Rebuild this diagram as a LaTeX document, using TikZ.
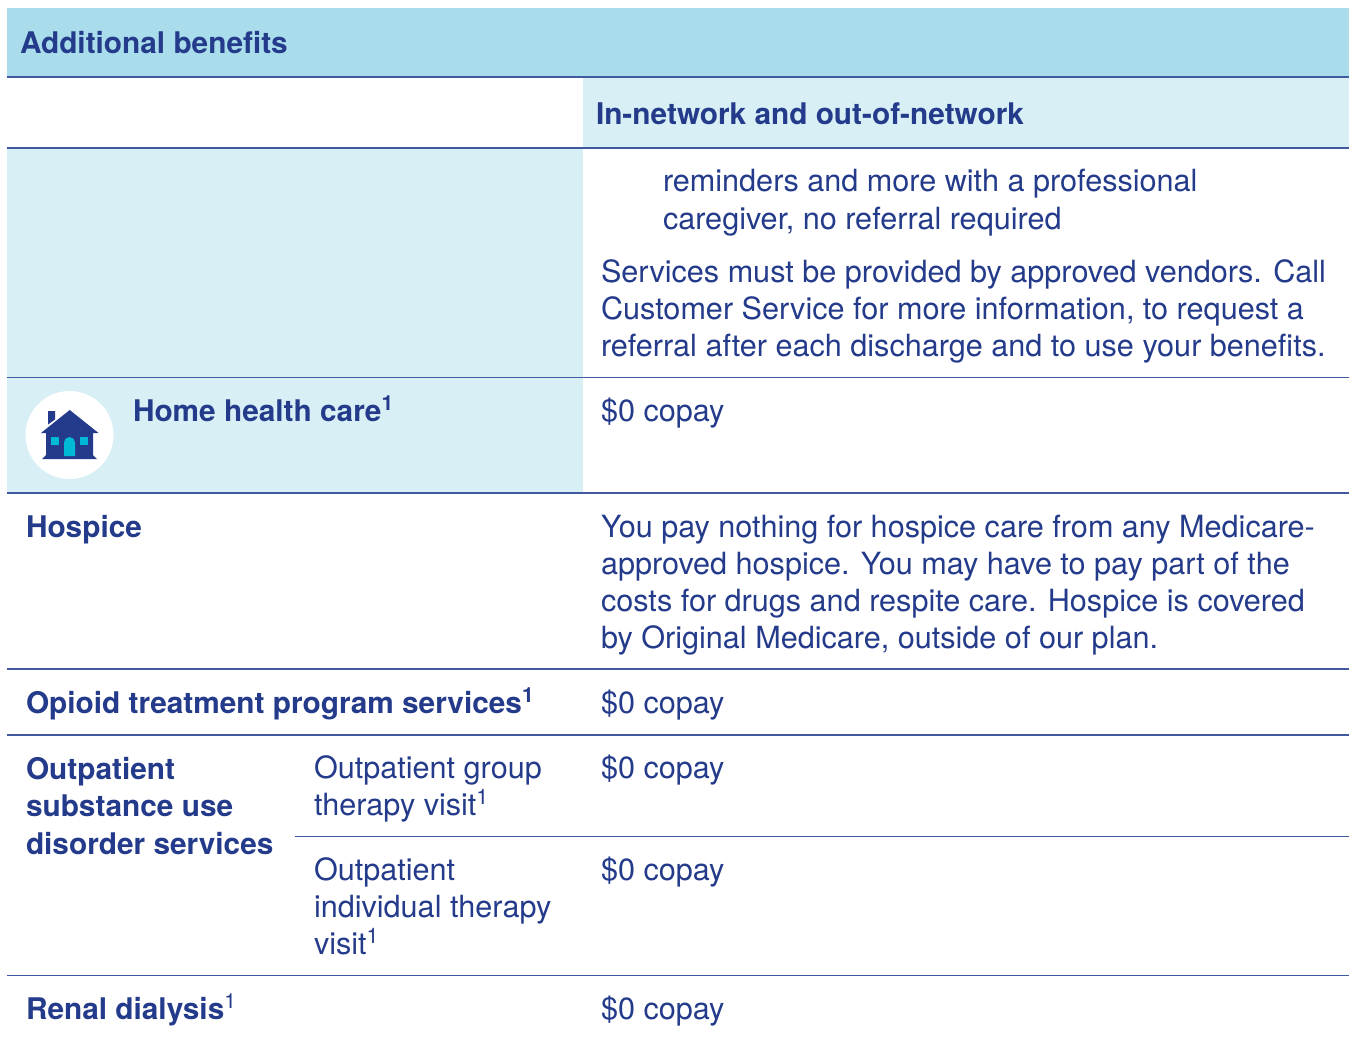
\documentclass[tikz,border=0pt]{standalone}
\usepackage{fontspec}
\setmainfont{TeX Gyre Heros}
\definecolor{navy}{HTML}{233B8A}
\definecolor{hdr}{HTML}{AADDEC}
\definecolor{pale}{HTML}{D8EFF5}
\definecolor{rule}{HTML}{3F5A9E}
\definecolor{teal}{HTML}{00B9D6}
\tikzset{
 body/.style={anchor=base west,inner sep=0pt,outer sep=0pt,text=navy,yshift=-0.5pt,font=\fontsize{30.6}{37}\selectfont},
 bold/.style={body,font=\fontsize{29.8}{37}\selectfont\bfseries},
 sep/.style={draw=rule,line width=1.4pt},
}
\newcommand{\fn}[1]{\raisebox{1.5pt}{\textsuperscript{#1}}}
\begin{document}
\begin{tikzpicture}[x=1pt,y=-1pt]
\useasboundingbox (0,0) rectangle (1349,1038);
\fill[white] (0,0) rectangle (1349,1038);
% fills
\fill[hdr] (7,8) rectangle (1349,77);
\fill[pale] (583,77) rectangle (1349,148);
\fill[pale] (7,148) rectangle (583,493);
% rules
\coordinate (l1) at (7,77); \coordinate (r1) at (1349,77);
\coordinate (l2) at (7,148); \coordinate (r2) at (1349,148);
\coordinate (l3) at (7,377.5); \coordinate (r3) at (1349,377.5);
\coordinate (l4) at (7,493); \coordinate (r4) at (1349,493);
\coordinate (l5) at (7,669); \coordinate (r5) at (1349,669);
\coordinate (l6) at (7,735); \coordinate (r6) at (1349,735);
\coordinate (l7) at (295,836.5); \coordinate (r7) at (1349,836.5);
\coordinate (l8) at (7,975.5); \coordinate (r8) at (1349,975.5);
\foreach \i in {1,...,8} \draw[sep] (l\i) -- (r\i);
% header
\node[bold] (t1) at (20,53) {Additional benefits};
\node[bold] (t2) at (596,124) {In-network and out-of-network};
% continuation
\node[body] (a1) at (663,191) {reminders and more with a professional};
\node[body] (a2) at (663,229) {caregiver, no referral required};
\node[body] (a3) at (601,282) {Services must be provided by approved vendors. Call};
\node[body] (a4) at (601,319) {Customer Service for more information, to request a};
\node[body] (a5) at (601,356) {referral after each discharge and to use your benefits.};
% home
\node[circle,fill=white,minimum size=88pt,inner sep=0pt] (ic) at (69.5,435) {};
\fill[navy] (48,411) -- (55,411) -- (55,419.5) -- (48,424.5) -- cycle;
\fill[navy] (41,433) -- (69.7,410) -- (98.5,433) -- (93,433) -- (93,455) -- (97,459) -- (42,459) -- (46,455) -- (46,433) -- cycle;
\fill[teal] (51,437) rectangle (59,445);
\fill[teal] (80,437) rectangle (88,445);
\fill[teal] (64,456) -- (64,442.5) arc (180:360:5.5) -- (75,456) -- cycle;
\node[bold] (h) at (133,421) {Home health care\fn{1}};
\node[body] (h2) at (601,421) {\$0 copay};
% hospice
\node[bold] (p) at (26,537) {Hospice};
\node[body] (p1) at (601,537) {You pay nothing for hospice care from any Medicare-};
\node[body] (p2) at (601,574) {approved hospice. You may have to pay part of the};
\node[body] (p3) at (601,611) {costs for drugs and respite care. Hospice is covered};
\node[body] (p4) at (601,648) {by Original Medicare, outside of our plan.};
% opioid
\node[bold] (o) at (26,713) {Opioid treatment program services\fn{1}};
\node[body] (o2) at (601,713) {\$0 copay};
% outpatient
\node[bold] (s1) at (26,779) {Outpatient};
\node[bold] (s2) at (26,816) {substance use};
\node[bold] (s3) at (26,854) {disorder services};
\node[body] (g1) at (314,778) {Outpatient group};
\node[body] (g2) at (314,815) {therapy visit\fn{1}};
\node[body] (g3) at (601,778) {\$0 copay};
\node[body] (i1) at (314,880) {Outpatient};
\node[body] (i2) at (314,917) {individual therapy};
\node[body] (i3) at (314,954) {visit\fn{1}};
\node[body] (i4) at (601,880) {\$0 copay};
% renal
\node[bold] (r) at (26,1019) {Renal dialysis\fn{\mdseries 1}};
\node[body] (r2) at (601,1019) {\$0 copay};
\end{tikzpicture}
\end{document}
